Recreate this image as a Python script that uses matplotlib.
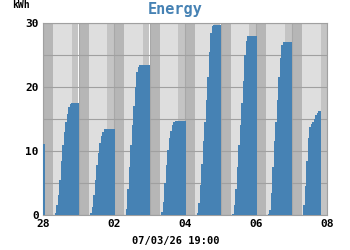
import datetime as dt
import matplotlib
matplotlib.use("Agg")
import matplotlib.pyplot as plt
import matplotlib.dates as mdates

# hourly cumulative energy (kWh), one list per day, index = hour of day
feb28 = [11.1, 0, 0, 0, 0, 0, 0, 0, 0.3, 1.5, 3.2, 5.5, 8.5, 11.0, 13.0, 14.5, 15.8, 16.9, 17.4, 17.5, 17.5, 17.5, 17.5, 17.5]
mar01 = [0, 0, 0, 0, 0, 0, 0, 0, 0.3, 1.3, 3.2, 5.5, 7.8, 9.7, 11.2, 12.3, 13.0, 13.4, 13.5, 13.5, 13.5, 13.5, 13.5, 13.5]
mar02 = [0, 0, 0, 0, 0, 0, 0, 0, 1.0, 4.0, 7.5, 11.0, 14.0, 17.0, 20.0, 22.3, 23.2, 23.4, 23.5, 23.5, 23.5, 23.5, 23.5, 23.5]
mar03 = [0, 0, 0, 0, 0, 0, 0, 0, 0.4, 2.0, 5.0, 7.8, 10.2, 12.0, 13.2, 14.0, 14.5, 14.7, 14.7, 14.7, 14.7, 14.7, 14.7, 14.7]
mar04 = [0, 0, 0, 0, 0, 0, 0, 0, 0.3, 1.8, 4.7, 8.0, 11.5, 14.5, 18.0, 21.5, 25.5, 28.5, 29.5, 29.7, 29.7, 29.7, 29.7, 29.7]
mar05 = [0, 0, 0, 0, 0, 0, 0, 0, 0.2, 1.5, 4.0, 7.5, 11.0, 14.0, 17.5, 21.0, 25.0, 27.2, 27.9, 28.0, 28.0, 28.0, 28.0, 28.0]
mar06 = [0, 0, 0, 0, 0, 0, 0, 0, 0.1, 0.8, 3.5, 7.5, 11.5, 14.5, 18.0, 21.5, 24.5, 26.5, 27.0, 27.1, 27.1, 27.1, 27.1, 27.1]
mar07 = [0, 0, 0, 0, 0, 0, 0, 0, 1.5, 4.5, 8.5, 12.0, 13.8, 14.2, 14.5, 15.0, 15.6, 16.0, 16.3]

day_starts = [dt.datetime(2026, 2, 28) + dt.timedelta(days=i) for i in range(8)]
day_values = [feb28, mar01, mar02, mar03, mar04, mar05, mar06, mar07]

# sunrise / sunset (hour of day) for the day-night shading
sunrise = [6.6, 7.3, 7.0, 7.1, 7.0, 7.0, 6.9, 6.9]
sunset = [19.8, 19.1, 19.8, 19.5, 19.6, 19.6, 19.7, 19.7]

xticks = [dt.datetime(2026, 2, 28), dt.datetime(2026, 3, 2), dt.datetime(2026, 3, 4),
          dt.datetime(2026, 3, 6), dt.datetime(2026, 3, 8)]
xticklabels = ['28', '02', '04', '06', '08']
yticks = [0, 10, 20, 30]

mono = 'DejaVu Sans Mono'

fig = plt.figure(figsize=(3.5, 2.5), dpi=100)
ax = fig.add_axes([43 / 350, 1 - 215 / 250, 284 / 350, 192 / 250])

# day / night background
for d, sr, ss in zip(day_starts, sunrise, sunset):
    ax.axvspan(d, d + dt.timedelta(hours=sr), color='#b6b6b6', lw=0, zorder=0)
    ax.axvspan(d + dt.timedelta(hours=sr), d + dt.timedelta(hours=ss), color='#dedede', lw=0, zorder=0)
    ax.axvspan(d + dt.timedelta(hours=ss), d + dt.timedelta(days=1), color='#c4c4c4', lw=0, zorder=0)

for d, vals in zip(day_starts, day_values):
    times = [d + dt.timedelta(hours=h) for h in range(len(vals))]
    ax.bar(times, vals, width=1 / 24, align='edge', color='#4682b4',
           edgecolor='#4682b4', lw=0.5, antialiased=False, zorder=3)

ax.set_xlim(day_starts[0], day_starts[0] + dt.timedelta(days=8))
ax.set_ylim(0, 30)
ax.set_xticks(xticks)
ax.set_xticklabels(xticklabels)
ax.set_yticks(yticks)
ax.set_yticks([5, 15, 25], minor=True)
ax.xaxis.set_minor_locator(mdates.DayLocator())
ax.set_axisbelow(True)
ax.grid(True, which='both', axis='y', color='#a0a0a0', lw=0.8)
ax.grid(True, which='both', axis='x', color='#a8a8a8', lw=0.8)
ax.tick_params(which='both', length=0, pad=3, labelsize=8)
for lab in ax.get_xticklabels() + ax.get_yticklabels():
    lab.set_family(mono)
    lab.set_weight('bold')
for s in ax.spines.values():
    s.set_color('#a0a0a0')
    s.set_linewidth(0.8)
    s.set_zorder(1)

fig.text(0.5, 0.962, 'Energy', ha='center', va='center', color='#4682b4',
         family=mono, weight='bold', size=11)
fig.text(21 / 350, 0.98, 'kWh', ha='center', va='center', family=mono, weight='bold', size=7)
fig.text(176 / 350, 1 - 241 / 250, '07/03/26 19:00', ha='center', va='center',
         family=mono, weight='bold', size=7.5)

fig.savefig('out.png', dpi=100)
